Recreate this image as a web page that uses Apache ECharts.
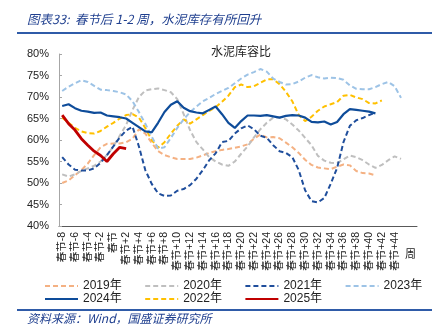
<!DOCTYPE html>
<html>
<head>
<meta charset="utf-8">
<script src="https://cdn.jsdelivr.net/npm/echarts@6/dist/echarts.min.js"></script>
<style>
html,body{margin:0;padding:0;background:#fff;}
#c{width:437px;height:336px;}
</style>
</head>
<body>
<div id="c"></div>
<script>
// Categories: weeks relative to Spring Festival (春节-8 ... 春节+47)
var categories = ['春节-8','春节-7','春节-6','春节-5','春节-4','春节-3','春节-2','春节-1','春节',
  '春节+1','春节+2','春节+3','春节+4','春节+5','春节+6','春节+7','春节+8','春节+9','春节+10',
  '春节+11','春节+12','春节+13','春节+14','春节+15','春节+16','春节+17','春节+18','春节+19','春节+20',
  '春节+21','春节+22','春节+23','春节+24','春节+25','春节+26','春节+27','春节+28','春节+29','春节+30',
  '春节+31','春节+32','春节+33','春节+34','春节+35','春节+36','春节+37','春节+38','春节+39','春节+40',
  '春节+41','春节+42','春节+43','春节+44','春节+45','春节+46','春节+47'];
// Tick labels shown on the axis
var tickLabels = ['春节-8','春节-6','春节-4','春节-2','春节','春节+2','春节+4','春节+6','春节+8',
  '春节+10','春节+12','春节+14','春节+16','春节+18','春节+20','春节+22','春节+24','春节+26',
  '春节+28','春节+30','春节+32','春节+34','春节+36','春节+38','春节+40','春节+42','春节+44'];

var y2019 = [50.0,50.6,51.8,53.0,54.5,56.5,58.3,59.1,
  59.2,59.2,59.5,60.3,62.5,61.5,59.3,57.4,56.5,56.0,
  55.6,55.6,55.6,55.9,56.4,57.0,57.4,57.7,57.9,58.2,
  58.5,59.0,60.3,61.3,60.6,60.7,60.4,59.4,58.3,57.0,
  55.4,54.2,53.6,53.4,53.2,53.8,54.3,54.1,52.8,52.3,
  52.2,51.8];
var y2020 = [52.0,51.5,52.0,52.8,53.4,54.0,55.0,56.5,
  58.5,61.0,63.5,67.0,70.0,71.5,71.8,72.0,71.6,71.1,69.5,
  66.0,62.3,59.5,57.8,56.0,55.0,54.3,54.0,55.0,56.8,
  58.5,60.6,62.5,64.0,65.2,65.3,64.8,63.6,62.2,60.5,
  58.8,56.3,55.2,54.7,54.6,55.5,56.4,56.0,55.3,54.3,
  53.5,54.2,55.3,56.2,55.6];
var y2021 = [56.0,54.3,53.1,52.9,52.9,53.4,54.7,56.5,
  58.5,60.6,62.2,63.1,58.5,53.0,49.8,47.6,47.0,47.1,
  48.2,48.6,49.5,51.0,53.0,55.3,56.9,59.5,59.8,61.5,
  62.7,63.4,62.5,61.0,60.5,58.8,57.4,57.0,56.0,53.0,
  48.3,45.8,45.5,46.5,49.8,53.5,59.5,63.3,64.6,65.1,
  65.8,66.4];
var y2022 = [65.2,64.0,62.8,62.0,61.6,61.5,62.1,63.1,
  64.0,65.0,65.8,66.0,65.2,62.8,60.0,58.2,59.5,61.5,
  63.3,64.8,63.8,64.8,65.8,66.8,67.6,68.9,70.3,72.3,
  72.9,72.3,72.5,73.3,74.1,74.1,73.0,71.2,69.0,65.8,
  64.4,65.4,66.8,67.8,68.3,68.8,70.3,70.5,69.9,69.5,
  68.6,68.5,69.2];
var y2023 = [71.4,72.4,73.2,73.9,73.5,72.6,71.7,71.6,
  71.4,71.1,70.6,69.0,66.5,63.8,60.8,58.0,58.3,60.5,
  62.8,64.8,66.5,67.8,69.0,69.8,70.7,71.4,72.1,73.2,
  74.3,75.2,75.8,76.5,75.9,74.3,73.5,72.9,73.0,73.6,
  74.5,75.1,74.6,74.3,74.5,74.4,74.0,72.7,71.9,71.8,
  71.8,72.3,73.0,73.5,72.5,69.8];
var y2024 = [67.9,68.3,67.4,66.8,66.6,66.3,66.4,65.7,
  65.5,65.3,65.0,64.0,63.0,62.0,61.8,64.0,66.5,68.2,
  69.0,67.5,66.7,66.4,66.2,67.0,67.8,66.0,64.0,62.8,
  64.4,65.7,65.7,65.6,65.8,65.5,65.2,65.6,65.8,65.7,
  65.2,64.2,64.1,64.3,63.6,64.2,66.0,67.2,67.0,66.8,
  66.6,66.2];
var y2025 = [65.8,63.8,62.3,60.3,58.8,57.4,56.4,55.0,
  56.8,58.3,58.0];

var festivalMarkTop = 75.6;
var festivalMarkBottom = 39.3;

var chart = echarts.init(document.getElementById('c'), null, {renderer:'canvas'});

function dashed(name, data, color) {
  return {
    name: name, type: 'line', data: data, symbol: 'none', smooth: false,
    lineStyle: {color: color, width: 2, type: [5, 3]},
    itemStyle: {color: color, opacity: 0},
    emphasis: {disabled: true}
  };
}
function solid(name, data, color, w) {
  return {
    name: name, type: 'line', data: data, symbol: 'none', smooth: false,
    lineStyle: {color: color, width: w, type: 'solid'},
    itemStyle: {color: color, opacity: 0},
    emphasis: {disabled: true}
  };
}

var s2025 = solid('2025年', y2025, '#C00000', 2.8);
s2025.markLine = {
  symbol: ['none','none'], silent: true, animation: false,
  label: {show: false},
  lineStyle: {color: '#E01010', width: 2, type: [4, 2], opacity: 1},
  data: [[{coord: ['春节', festivalMarkTop]}, {coord: ['春节', festivalMarkBottom]}]]
};

var legendText = {fontSize: 12, color: '#222', fontFamily: 'Liberation Sans, Arial, Noto Sans CJK SC, sans-serif'};
var legendBase = {left: 39, itemWidth: 33, itemHeight: 10, itemGap: 22.5,
  textStyle: legendText, selectedMode: false, itemStyle: {opacity: 0}};

chart.setOption({
  animation: false,
  backgroundColor: '#fff',
  grid: {left: 59, right: 20, top: 54, bottom: 110, containLabel: false},
  legend: [
    Object.assign({data: ['2019年','2020年','2021年','2023年'], top: 275}, legendBase),
    Object.assign({data: ['2024年','2022年','2025年'], top: 288}, legendBase)
  ],
  xAxis: {
    type: 'category', data: categories, boundaryGap: true,
    axisLine: {lineStyle: {color: '#595959', width: 1}},
    axisTick: {show: false},
    axisLabel: {interval: 0, rotate: 90, fontSize: 10.5, color: '#222', margin: 6,
      fontFamily: 'Liberation Sans, Arial, Noto Sans CJK SC, sans-serif',
      formatter: function (v) { return tickLabels.indexOf(v) >= 0 ? v : ''; }}
  },
  yAxis: {
    type: 'value', min: 40, max: 80, interval: 5,
    axisLine: {show: true, lineStyle: {color: '#A6A6A6'}},
    axisTick: {show: true, inside: true, length: 3, lineStyle: {color: '#A6A6A6'}},
    splitLine: {show: false},
    axisLabel: {formatter: '{value}%', fontSize: 11, color: '#222', margin: 10,
      fontFamily: 'Liberation Sans, Arial, sans-serif'}
  },
  graphic: [
    {type: 'text', left: 27, top: 13, style: {text: '图表33:  春节后 1-2 周，水泥库存有所回升',
      font: 'italic 12.5px "Noto Sans CJK SC", sans-serif', fill: '#1F3F8F'}},
    {type: 'line', shape: {x1: 17, y1: 33, x2: 432, y2: 33}, style: {stroke: '#2F5BA8', lineWidth: 2}},
    {type: 'text', left: 211, top: 45, style: {text: '水泥库容比',
      font: '12px "Noto Sans CJK SC", sans-serif', fill: '#222'}},
    {type: 'text', left: 405, top: 248, style: {text: '周',
      font: '11px "Noto Sans CJK SC", sans-serif', fill: '#222'}},
    {type: 'line', shape: {x1: 17, y1: 310, x2: 432, y2: 310}, style: {stroke: '#2F5BA8', lineWidth: 2}},
    {type: 'text', left: 27, top: 312, style: {text: '资料来源：Wind，国盛证券研究所',
      font: 'italic 12px "Noto Sans CJK SC", sans-serif', fill: '#1F3F8F'}}
  ],
  series: [
    dashed('2019年', y2019, '#F4B183'),
    dashed('2020年', y2020, '#BFBFBF'),
    dashed('2021年', y2021, '#1F4E9C'),
    dashed('2022年', y2022, '#FFC000'),
    dashed('2023年', y2023, '#9DC3E6'),
    solid('2024年', y2024, '#0E4C9A', 2.2),
    s2025
  ]
});
</script>
</body>
</html>
